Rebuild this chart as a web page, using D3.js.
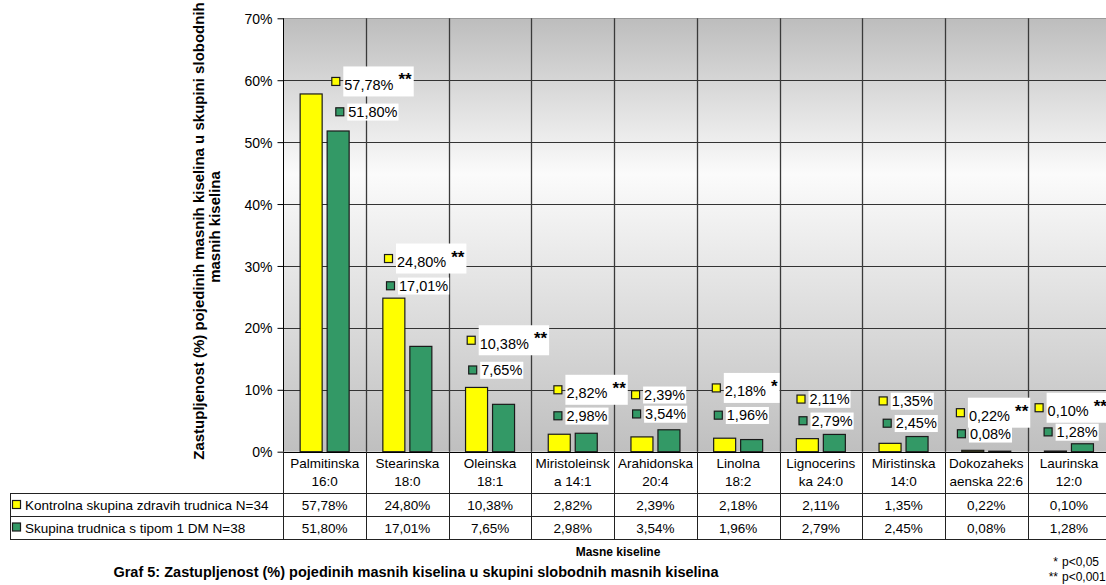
<!DOCTYPE html>
<html>
<head>
<meta charset="utf-8">
<script src="https://cdn.jsdelivr.net/npm/d3@7"></script>
<style>
  body { margin: 0; background: #fff; }
  text { font-family: "Liberation Sans", Arial, sans-serif; fill: #000; }
  .narrow { font-family: "Liberation Sans Narrow", "Liberation Sans", Arial, sans-serif; }
</style>
</head>
<body>
<div id="chart"></div>
<script>
// chart data
const categories = [
  ["Palmitinska", "16:0"], ["Stearinska", "18:0"], ["Oleinska", "18:1"],
  ["Miristoleinsk", "a 14:1"], ["Arahidonska", "20:4"], ["Linolna", "18:2"],
  ["Lignocerins", "ka 24:0"], ["Miristinska", "14:0"], ["Dokozaheks", "aenska 22:6"],
  ["Laurinska", "12:0"]
];
const seriesNames = ["Kontrolna skupina zdravih trudnica N=34", "Skupina trudnica s tipom 1 DM N=38"];
const control = [57.78, 24.80, 10.38, 2.82, 2.39, 2.18, 2.11, 1.35, 0.22, 0.10];
const diabetes = [51.80, 17.01, 7.65, 2.98, 3.54, 1.96, 2.79, 2.45, 0.08, 1.28];
const significance = ["**", "**", "**", "**", "", "*", "", "", "**", "**"];
const yTicks = [0, 10, 20, 30, 40, 50, 60, 70];

// where the hand-placed data labels sit (value level, in %)
const controlLabelAt = [59.8, 31.2, 18.0, 10.0, 9.2, 10.3, 8.5, 8.2, 6.3, 7.1];
const diabetesLabelAt = [54.9, 26.8, 13.2, 5.8, 6.1, 5.9, 5.0, 4.6, 2.9, 3.2];
const labelShift = [48, 18, 18, 22, 17, 15, 17, 16.5, 11, 7];
const labelShift2 = [4, 2, 1.5, 0, 1, 2, 2, 4, 1, 9];

const colors = ["#ffff00", "#339966"];
const fmt = v => v.toFixed(2).replace(".", ",") + "%";

const width = 1106, height = 585;
const plot = {left: 283.3, right: 1110.3, top: 18.3, bottom: 451.7};

const svg = d3.select("#chart").append("svg")
  .attr("width", width)
  .attr("height", height);

const x = d3.scaleBand()
  .domain(d3.range(categories.length))
  .range([plot.left, plot.right]);

const xs = d3.scaleBand()
  .domain([0, 1])
  .range([0, x.bandwidth()])
  .paddingInner(0.185)
  .paddingOuter(0.624);

const y = d3.scaleLinear()
  .domain([0, 70])
  .range([plot.bottom, plot.top]);

// plot background
const grad = svg.append("defs").append("linearGradient")
  .attr("id", "bg").attr("x1", 0).attr("y1", 0).attr("x2", 0).attr("y2", 1);
grad.append("stop").attr("offset", 0).attr("stop-color", "#bdbdbd");
grad.append("stop").attr("offset", 0.36).attr("stop-color", "#fbfbfb");
grad.append("stop").attr("offset", 1).attr("stop-color", "#bfbfbf");

svg.append("rect")
  .attr("x", plot.left).attr("y", plot.top)
  .attr("width", plot.right - plot.left).attr("height", plot.bottom - plot.top)
  .attr("fill", "url(#bg)");

// grid
svg.append("g")
  .selectAll("line")
  .data(yTicks.slice(1, -1))
  .enter().append("line")
  .attr("x1", plot.left).attr("x2", plot.right)
  .attr("y1", d => Math.round(y(d)) + 0.5).attr("y2", d => Math.round(y(d)) + 0.5)
  .attr("stroke", "#333").attr("stroke-width", 1);

svg.append("line")
  .attr("x1", plot.left).attr("x2", plot.right)
  .attr("y1", Math.round(y(70)) + 0.5).attr("y2", Math.round(y(70)) + 0.5)
  .attr("stroke", "#9a9a9a");

svg.append("g")
  .selectAll("line")
  .data(d3.range(1, categories.length))
  .enter().append("line")
  .attr("x1", d => Math.round(x(d)) + 0.5).attr("x2", d => Math.round(x(d)) + 0.5)
  .attr("y1", plot.top).attr("y2", plot.bottom)
  .attr("stroke", "#3a3a3a").attr("stroke-width", 1.3);

// bars
const groups = svg.append("g")
  .selectAll("g")
  .data(categories)
  .enter().append("g")
  .attr("transform", (d, i) => "translate(" + x(i) + ",0)");

groups.selectAll("rect")
  .data((d, i) => [control[i], diabetes[i]])
  .enter().append("rect")
  .attr("x", (d, j) => xs(j))
  .attr("y", d => y(d))
  .attr("width", xs.bandwidth())
  .attr("height", d => y(0) - y(d))
  .attr("fill", (d, j) => colors[j])
  .attr("stroke", "#1a1a1a")
  .attr("stroke-width", 1.2);

// y axis
const yAxis = svg.append("g")
  .attr("transform", "translate(" + (Math.round(plot.left) + 0.5) + ",0)")
  .call(d3.axisLeft(y).tickValues(yTicks).tickFormat(d => d + "%").tickSize(6).tickPadding(5));
yAxis.select(".domain").attr("stroke", "#000").attr("d", "M0," + plot.top + "V" + plot.bottom);
yAxis.selectAll(".tick line").attr("stroke", "#000");
yAxis.selectAll(".tick text")
  .attr("font-size", 14)
  .attr("font-family", "Liberation Sans, Arial, sans-serif")
  .attr("fill", "#000")
  .attr("dy", "0.36em");

svg.append("line")
  .attr("x1", plot.left).attr("x2", plot.right)
  .attr("y1", Math.round(plot.bottom) + 0.5).attr("y2", Math.round(plot.bottom) + 0.5)
  .attr("stroke", "#000");

// y title
const yTitle = svg.append("text")
  .attr("transform", "translate(204," + ((plot.top + plot.bottom) / 2 - 4) + ") rotate(-90)")
  .attr("text-anchor", "middle")
  .attr("font-weight", "bold")
  .attr("font-size", 15);
yTitle.append("tspan").attr("x", 0).attr("y", 0)
  .text("Zastupljenost (%) pojedinih masnih kiselina u skupini slobodnih");
yTitle.append("tspan").attr("x", 4).attr("y", 16)
  .text("masnih kiselina");

// data labels
const labels = svg.append("g");
categories.forEach((c, i) => {
  [0, 1].forEach(j => {
    const cx = x(i) + labelShift[i] + (j ? labelShift2[i] : 0);
    const cy = y(j ? diabetesLabelAt[i] : controlLabelAt[i]);
    const star = j === 0 ? significance[i] : "";
    const g = labels.append("g");
    const box = g.append("rect").attr("fill", "#fff");
    const baseline = star ? cy + 8.5 : cy + 4.8;
    const t = g.append("text")
      .attr("x", cx + 13).attr("y", baseline)
      .attr("font-size", 14.5)
      .text(fmt(j ? diabetes[i] : control[i]));
    let right = cx + 13 + t.node().getComputedTextLength();
    if (star) {
      const s = g.append("text")
        .attr("x", right + 5).attr("y", cy + 4)
        .attr("font-size", 17).attr("font-weight", "bold")
        .text(star);
      right = right + 5 + s.node().getComputedTextLength();
      box.attr("x", cx + 12).attr("y", cy - 15).attr("width", right - cx - 10).attr("height", 30);
    } else {
      box.attr("x", cx + 12).attr("y", baseline - 13).attr("width", right - cx - 11).attr("height", 17);
    }
    g.append("rect")
      .attr("x", cx + 0.5).attr("y", cy - 4)
      .attr("width", 8).attr("height", 8)
      .attr("fill", colors[j]).attr("stroke", "#1a1a1a").attr("stroke-width", 1.2);
  });
});

// data table
const rows = [plot.bottom, 493, 516, 539];
const table = svg.append("g");
table.selectAll("line.h")
  .data(rows.slice(1))
  .enter().append("line")
  .attr("x1", 10).attr("x2", plot.right)
  .attr("y1", d => d + 0.5).attr("y2", d => d + 0.5)
  .attr("stroke", "#222");
table.selectAll("line.v")
  .data(d3.range(categories.length + 1))
  .enter().append("line")
  .attr("x1", d => Math.round(d < categories.length ? x(d) : plot.right) + 0.5)
  .attr("x2", d => Math.round(d < categories.length ? x(d) : plot.right) + 0.5)
  .attr("y1", plot.bottom).attr("y2", rows[3])
  .attr("stroke", "#222");
table.append("line")
  .attr("x1", 10.5).attr("x2", 10.5)
  .attr("y1", rows[1]).attr("y2", rows[3])
  .attr("stroke", "#222");

const cats = table.selectAll("text.cat")
  .data(categories)
  .enter().append("text")
  .attr("text-anchor", "middle")
  .attr("font-size", 13.5);
cats.append("tspan")
  .attr("x", (d, i) => x(i) + x.bandwidth() / 2).attr("y", 467.5)
  .text(d => d[0]);
cats.append("tspan")
  .attr("x", (d, i) => x(i) + x.bandwidth() / 2).attr("y", 485.5)
  .text(d => d[1]);

[control, diabetes].forEach((vals, j) => {
  table.selectAll("text.v" + j)
    .data(vals)
    .enter().append("text")
    .attr("x", (d, i) => x(i) + x.bandwidth() / 2)
    .attr("y", j ? 532.5 : 509.5)
    .attr("text-anchor", "middle")
    .attr("font-size", 13.5)
    .text(fmt);
  table.append("rect")
    .attr("x", 12.5).attr("y", (j ? 523 : 500.5))
    .attr("width", 8).attr("height", 8)
    .attr("fill", colors[j]).attr("stroke", "#1a1a1a").attr("stroke-width", 1.2);
  table.append("text")
    .attr("x", 25).attr("y", j ? 532.5 : 509.5)
    .attr("font-size", 13.5)
    .text(seriesNames[j]);
});

// titles and notes
svg.append("text")
  .attr("class", "narrow")
  .attr("x", 618).attr("y", 556)
  .attr("text-anchor", "middle")
  .attr("font-weight", "bold")
  .attr("font-size", 12)
  .text("Masne kiseline");

svg.append("text")
  .attr("x", 416).attr("y", 577)
  .attr("text-anchor", "middle")
  .attr("font-weight", "bold")
  .attr("font-size", 14.5)
  .text("Graf 5: Zastupljenost (%) pojedinih masnih kiselina u skupini slobodnih masnih kiselina");

const noteX = 1062;
svg.append("text")
  .attr("class", "narrow")
  .attr("x", noteX - 4).attr("y", 566)
  .attr("text-anchor", "end")
  .attr("font-size", 12)
  .text("*");
svg.append("text")
  .attr("class", "narrow")
  .attr("x", noteX).attr("y", 566)
  .attr("font-size", 12)
  .text("p<0,05");
svg.append("text")
  .attr("class", "narrow")
  .attr("x", noteX - 4).attr("y", 581)
  .attr("text-anchor", "end")
  .attr("font-size", 12)
  .text("**");
svg.append("text")
  .attr("class", "narrow")
  .attr("x", noteX).attr("y", 581)
  .attr("font-size", 12)
  .text("p<0,001");
</script>
</body>
</html>
